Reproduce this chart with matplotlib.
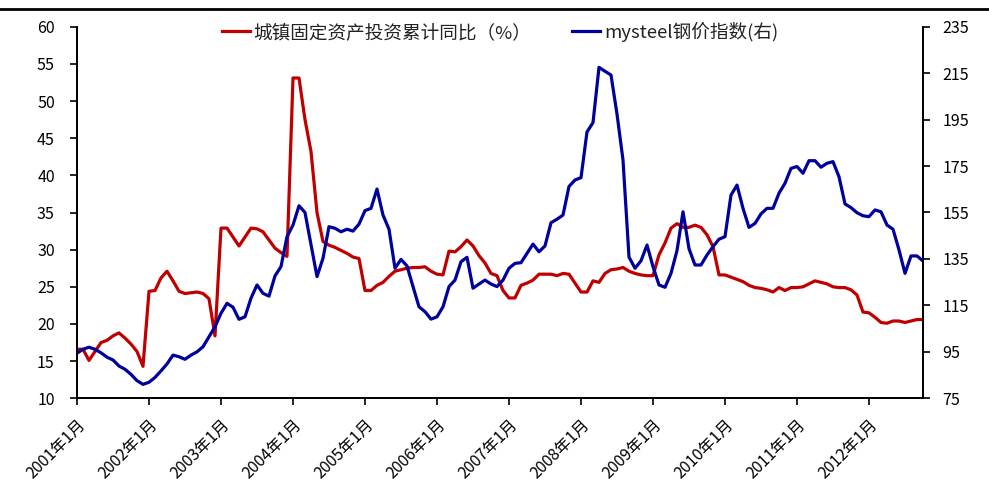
import matplotlib
matplotlib.use("Agg")
import matplotlib.pyplot as plt
from matplotlib.lines import Line2D
import numpy as np

plt.rcParams['font.family'] = ['Noto Sans CJK SC', 'DejaVu Sans']

# monthly, 2001-01 .. 2012-10
n_months = 142
months = np.arange(n_months)
tick_labels = [f"{y}年1月" for y in range(2001, 2013)]

fai_yoy = [
    16.6, 16.6, 15.1, 16.3, 17.5, 17.8, 18.4, 18.8, 18.1, 17.3, 16.3, 14.3,
    24.4, 24.5, 26.2, 27.1, 25.8, 24.4, 24.1, 24.2, 24.3, 24.1, 23.4, 18.4,
    32.9, 32.9, 31.7, 30.5, 31.7, 32.9, 32.8, 32.4, 31.3, 30.2, 29.6, 29.1,
    53.1, 53.1, 47.5, 43.2, 35.0, 31.1, 30.6, 30.3, 29.9, 29.5, 29.0, 28.8,
    24.5, 24.5, 25.2, 25.6, 26.4, 27.1, 27.3, 27.5, 27.6, 27.6, 27.7, 27.1,
    26.7, 26.6, 29.8, 29.7, 30.4, 31.3, 30.5, 29.2, 28.2, 26.8, 26.5, 24.5,
    23.5, 23.5, 25.2, 25.5, 25.9, 26.7, 26.7, 26.7, 26.5, 26.8, 26.7, 25.5,
    24.3, 24.3, 25.8, 25.6, 26.8, 27.3, 27.4, 27.6, 27.1, 26.8, 26.6, 26.5,
    26.5, 29.3, 30.9, 32.9, 33.5, 33.0, 33.0, 33.3, 33.0, 32.0, 30.4, 26.6,
    26.6, 26.3, 26.0, 25.7, 25.2, 24.9, 24.8, 24.6, 24.3, 24.9, 24.5, 24.9,
    24.9, 25.0, 25.4, 25.8, 25.6, 25.4, 25.0, 24.9, 24.9, 24.6, 23.9, 21.6,
    21.5, 20.9, 20.2, 20.1, 20.4, 20.4, 20.2, 20.4, 20.6, 20.6,
]

steel_index = [
    94.4, 96.1, 97.0, 96.1, 94.6, 92.7, 91.5, 88.9, 87.5, 85.3, 82.6, 81.0,
    81.9, 84.0, 86.8, 89.8, 93.6, 92.9, 91.8, 93.6, 95.0, 97.2, 101.5, 105.8,
    111.6, 115.9, 114.2, 109.0, 110.1, 118.1, 123.8, 120.2, 119.0, 127.7, 131.7, 144.6,
    149.6, 157.9, 155.0, 141.2, 127.4, 135.3, 148.9, 148.2, 146.7, 147.8, 147.0, 150.0,
    155.8, 156.8, 165.1, 153.9, 147.8, 131.0, 134.8, 132.0, 123.1, 114.4, 112.3, 109.1,
    110.1, 114.4, 123.1, 125.9, 133.8, 135.7, 122.4, 124.2, 125.9, 124.2, 123.1, 125.9,
    131.0, 133.1, 133.4, 137.4, 141.4, 138.1, 140.6, 150.6, 152.1, 153.9, 166.2, 169.0,
    170.0, 189.7, 193.7, 217.5, 215.8, 214.2, 197.4, 177.6, 135.8, 131.0, 134.2, 141.0,
    131.7, 123.8, 122.8, 128.8, 138.6, 155.3, 139.4, 132.4, 132.4, 136.7, 140.3, 143.5,
    144.6, 162.5, 166.8, 156.8, 148.6, 150.3, 154.4, 156.8, 156.8, 163.3, 167.6, 174.0,
    174.8, 171.9, 177.3, 177.3, 174.5, 176.2, 176.9, 170.4, 158.7, 157.1, 154.9, 153.6,
    153.2, 156.1, 155.3, 149.6, 147.8, 138.9, 128.8, 136.3, 136.3, 134.1,
]

W, H = 989, 488
fig = plt.figure(figsize=(W / 100, H / 100), dpi=100)
ax = fig.add_axes([77 / W, 1 - 398.3 / H, (923 - 77) / W, (398.3 - 26.7) / H])
ax2 = ax.twinx()

# thin rule across the top of the page
fig.add_artist(Line2D([0, 1], [1 - 8.5 / H, 1 - 8.5 / H], color='black', lw=2.0))

l1, = ax.plot(months, fai_yoy, color='#C00000', lw=2.3, label='城镇固定资产投资累计同比（%）')
l2, = ax2.plot(months, steel_index, color='#00009C', lw=2.3, label='mysteel钢价指数(右)')

ax.set_xlim(0, n_months - 1)
ax.set_ylim(10, 60)
ax.set_yticks(np.arange(10, 61, 5))
ax2.set_ylim(75, 235)
ax2.set_yticks(np.arange(75, 236, 20))

ax.set_xticks(np.arange(0, n_months, 12))
ax.set_xticklabels(tick_labels, rotation=45, ha='right', va='top', rotation_mode='anchor')

for a in (ax, ax2):
    a.spines['top'].set_visible(False)
    for s in ('left', 'right', 'bottom'):
        a.spines[s].set_linewidth(1.3)
        a.spines[s].set_color('black')
    a.tick_params(direction='out', length=5, width=1.2, labelsize=11.5, colors='black')
ax.tick_params(axis='x', pad=8, labelsize=11.5)
ax.tick_params(axis='y', pad=11)
ax2.tick_params(axis='y', pad=9)

ax.legend([l1, l2], [l1.get_label(), l2.get_label()], loc='center', ncol=2,
          bbox_to_anchor=(0.5, 0.986), frameon=False, fontsize=13.4,
          handlelength=1.5, handletextpad=0.2, columnspacing=2.2,
          labelcolor='#222222')

fig.savefig('out.png', dpi=100)
